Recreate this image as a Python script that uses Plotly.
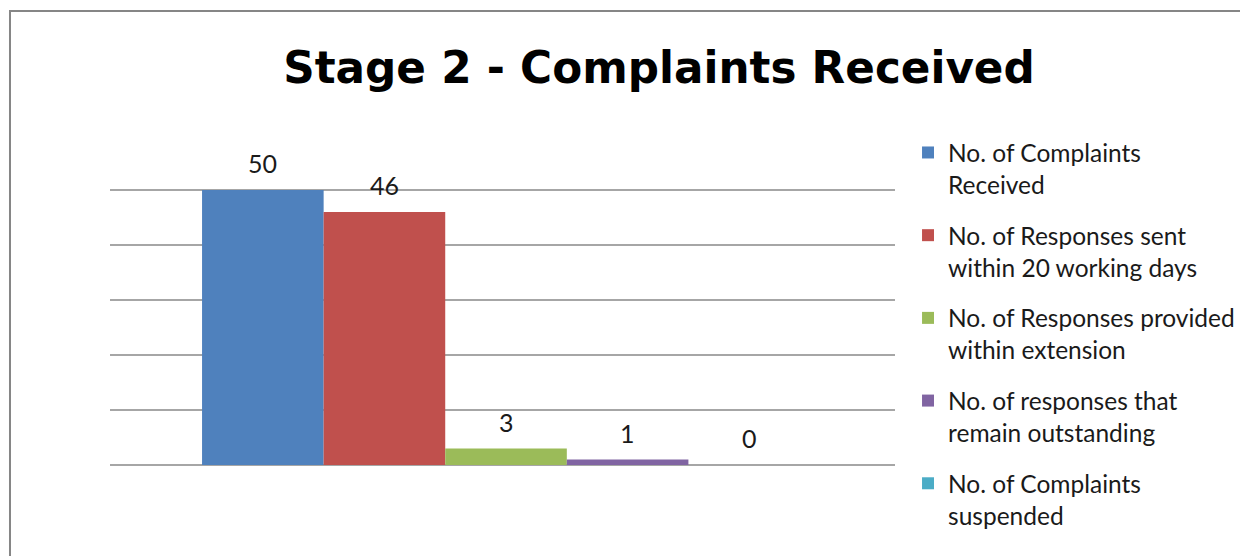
import plotly.graph_objects as go

title = "Stage 2 - Complaints Received"
series_names = [
    "No. of Complaints<br>Received",
    "No. of Responses sent<br>within 20 working days",
    "No. of Responses provided<br>within extension",
    "No. of responses that<br>remain outstanding",
    "No. of Complaints<br>suspended",
]
values = [50, 46, 3, 1, 0]
colors = ["#4F81BD", "#C0504D", "#9BBB59", "#8064A2", "#4BACC6"]
positions = [0, 1, 2, 3, 4]
y_ticks = [0, 10, 20, 30, 40, 50, 60]

fig = go.Figure()
for i, (name, v, c, p) in enumerate(zip(series_names, values, colors, positions)):
    fig.add_trace(go.Bar(
        x=[p], y=[v], name=name, marker=dict(color=c, line=dict(width=0)),
        width=1, legendgroup=f"g{i}", hoverinfo="skip",
    ))
    fig.add_annotation(
        x=p, y=v, text=str(v), showarrow=False, yshift=27, yanchor="middle",
        font=dict(family="Lato", size=25, color="#1a1a1a"),
    )

fig.update_layout(
    width=1240, height=548,
    margin=dict(l=102, r=353, t=127, b=91, autoexpand=False),
    paper_bgcolor="white", plot_bgcolor="white",
    barmode="overlay",
    title=dict(text=title, x=0.525, xanchor="center", y=0.8905, yanchor="middle",
               font=dict(family="DejaVu Sans", size=43.7, color="black", weight="bold")),
    xaxis=dict(range=[-1.257, 5.199], showticklabels=False, showgrid=False,
               zeroline=False, showline=False, ticks=""),
    yaxis=dict(range=[0, 60], tickvals=y_ticks, showticklabels=False, showgrid=True,
               gridcolor="#a6a6a6", gridwidth=1.5, zeroline=True, zerolinecolor="#a6a6a6",
               zerolinewidth=1.5, showline=False, ticks=""),
    legend=dict(x=1.0166, xanchor="left", y=1.015, yanchor="top", valign="top",
                font=dict(family="Lato", size=24.5, color="#1a1a1a"),
                tracegroupgap=16, bgcolor="rgba(0,0,0,0)", maxheight=600),
    showlegend=True,
    shapes=[dict(type="rect", xref="paper", yref="paper", x0=-0.1274, y0=1.3758,
                 x1=2, y1=-1, line=dict(color="#868686", width=2),
                 fillcolor="rgba(0,0,0,0)", layer="above")],
)

fig.write_html("out.html")
